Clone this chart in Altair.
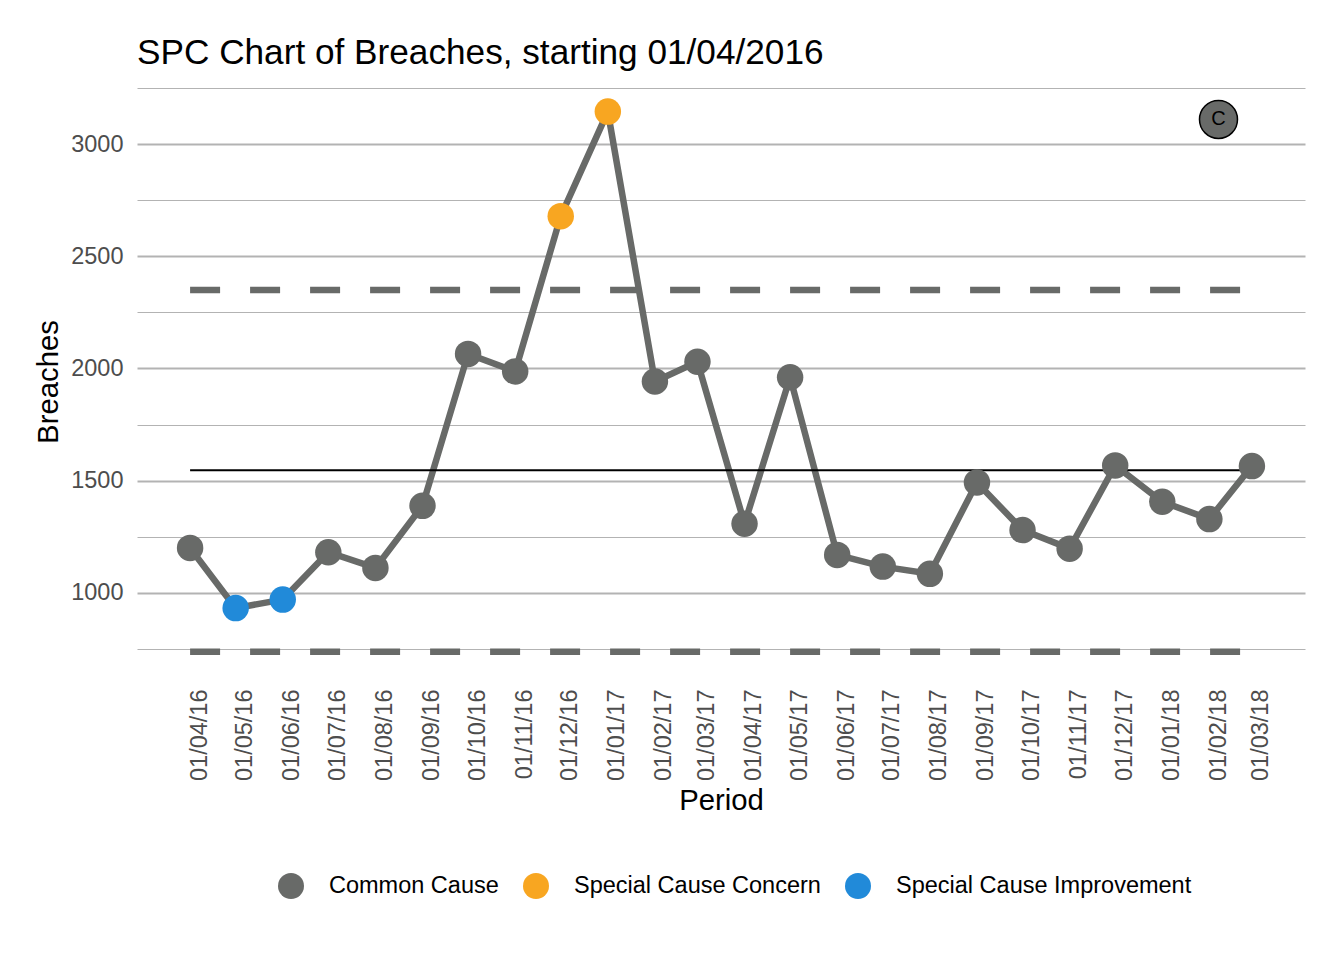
import altair as alt
import pandas as pd

# ---- data ----
periods = ["2016-04-01", "2016-05-01", "2016-06-01", "2016-07-01", "2016-08-01", "2016-09-01",
           "2016-10-01", "2016-11-01", "2016-12-01", "2017-01-01", "2017-02-01", "2017-03-01",
           "2017-04-01", "2017-05-01", "2017-06-01", "2017-07-01", "2017-08-01", "2017-09-01",
           "2017-10-01", "2017-11-01", "2017-12-01", "2018-01-01", "2018-02-01", "2018-03-01"]
breaches = [1200, 932, 970, 1181, 1111, 1388, 2065, 1987, 2679, 3145, 1942, 2030,
            1308, 1961, 1169, 1117, 1085, 1492, 1280, 1197, 1568, 1406, 1329, 1565]
point_type = ["Common Cause", "Special Cause Improvement", "Special Cause Improvement",
              "Common Cause", "Common Cause", "Common Cause", "Common Cause", "Common Cause",
              "Special Cause Concern", "Special Cause Concern", "Common Cause", "Common Cause",
              "Common Cause", "Common Cause", "Common Cause", "Common Cause", "Common Cause",
              "Common Cause", "Common Cause", "Common Cause", "Common Cause", "Common Cause",
              "Common Cause", "Common Cause"]
mean_value = 1546
upper_limit = 2350
lower_limit = 737

legend_labels = ["Common Cause", "Special Cause Concern", "Special Cause Improvement"]
legend_colors = ["#686a68", "#f8a621", "#218ad9"]

icon_date = ["2018-02-07"]
icon_value = [3110]
icon_text = ["C"]

y_grid_values = [750, 1000, 1250, 1500, 1750, 2000, 2250, 2500, 2750, 3000, 3250]
y_domain = [616, 3268]

GREY = "#686a68"

# ---- tables ----
df = pd.DataFrame({"Period": pd.to_datetime(periods), "Breaches": breaches, "Type": point_type})
df["mean"] = mean_value
df["ucl"] = upper_limit
df["lcl"] = lower_limit
icon_df = pd.DataFrame({"Period": pd.to_datetime(icon_date), "y": icon_value, "label": icon_text})

def ms(ts):
    return int(pd.Timestamp(ts).value // 10**6)

span = df["Period"].max() - df["Period"].min()
x_domain = [ms(df["Period"].min() - span * 0.05), ms(df["Period"].max() + span * 0.05)]
x_values = [ms(t) for t in df["Period"]]

x_axis = alt.Axis(values=x_values, labelExpr="utcFormat(datum.value, '%d/%m/%y')",
                  labelAngle=270, tickOffset=9, title="Period", grid=False, ticks=False,
                  domain=False, labelPadding=10, titlePadding=6)
x_scale = alt.Scale(type="utc", domain=x_domain, nice=False)


def xe():
    return alt.X("Period:T", scale=x_scale, axis=x_axis)


y_scale = alt.Scale(domain=y_domain, nice=False, zero=False)
y_axis = alt.Axis(
    values=y_grid_values,
    labelExpr="datum.value % 500 === 0 ? datum.label : ''",
    grid=True,
    gridColor="#b3b3b3",
    gridWidth={"condition": {"test": "datum.value % 500 === 0", "value": 2.2}, "value": 1.1},
    ticks=False, domain=False, title="Breaches", labelPadding=14, titlePadding=7,
    format="d",
)


def ye(field):
    return alt.Y(field, scale=y_scale, axis=y_axis)


base = alt.Chart(df)

data_line = base.mark_line(color=GREY, strokeWidth=6.5).encode(x=xe(), y=ye("Breaches:Q"))
ucl_line = base.mark_line(color=GREY, strokeWidth=6.5, strokeDash=[30, 30]).encode(
    x=xe(), y=ye("ucl:Q"))
lcl_line = base.mark_line(color=GREY, strokeWidth=6.5, strokeDash=[30, 30]).encode(
    x=xe(), y=ye("lcl:Q"))
mean_line = base.mark_line(color="black", strokeWidth=2).encode(x=xe(), y=ye("mean:Q"))
points = base.mark_point(filled=True, opacity=1, size=700, shape="circle").encode(
    x=xe(),
    y=ye("Breaches:Q"),
    color=alt.Color(
        "Type:N",
        scale=alt.Scale(domain=legend_labels, range=legend_colors),
        legend=alt.Legend(
            title=None, orient="none", direction="horizontal",
            legendX=141, legendY=789,
            symbolType="circle", symbolSize=676, symbolStrokeWidth=0,
            labelFontSize=23.5, labelColor="black", labelOffset=25,
            columnPadding=24, labelLimit=500,
        ),
    ),
)
icon_circle = alt.Chart(icon_df).mark_point(
    filled=True, fill=GREY, stroke="black", strokeWidth=1.5, size=1444, shape="circle", opacity=1
).encode(x=xe(), y=ye("y:Q"))
icon_label = alt.Chart(icon_df).mark_text(
    fontSize=20, color="black", font="Liberation Sans", baseline="middle", align="center"
).encode(x=xe(), y=ye("y:Q"), text="label:N")

chart = (
    alt.layer(data_line, ucl_line, lcl_line, mean_line, points, icon_circle, icon_label)
    .properties(
        width=1168, height=595,
        title=alt.TitleParams("SPC Chart of Breaches, starting 01/04/2016", anchor="start",
                              frame="group",
                              fontSize=35.2, fontWeight="normal", color="black",
                              font="Liberation Sans", offset=13),
        autosize=alt.AutoSizeParams(type="none"),
        padding={"left": 129, "top": 76, "right": 29, "bottom": 270},
    )
    .configure(font="Liberation Sans", background="white")
    .configure_view(stroke=None)
    .configure_axis(labelFont="Liberation Sans", labelFontSize=23.5, labelColor="#4d4d4d",
                    titleFont="Liberation Sans", titleFontSize=29.3, titleColor="black",
                    titleFontWeight="normal")
    .configure_legend(labelFont="Liberation Sans")
)

chart.save("out.html", embed_options={"renderer": "svg", "actions": False})
